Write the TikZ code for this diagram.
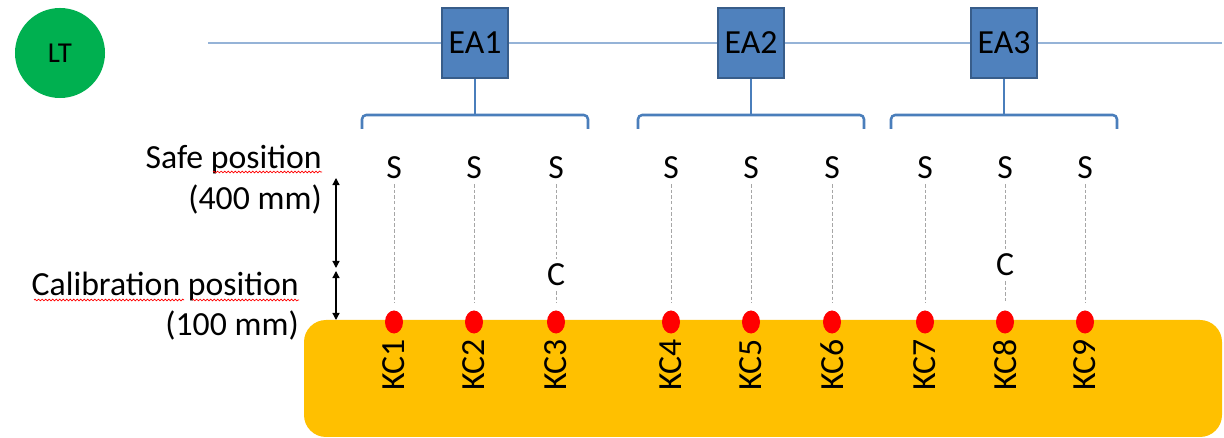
\documentclass[tikz,border=0pt]{standalone}
\usepackage{fontspec}
\setmainfont{Carlito}
\usetikzlibrary{arrows.meta,shapes.geometric,decorations.pathmorphing}

\definecolor{trackergreen}{HTML}{00B050}
\definecolor{eafill}{HTML}{4F81BD}
\definecolor{eaedge}{HTML}{385D8A}
\definecolor{busblue}{HTML}{95B3D7}
\definecolor{braceblue}{HTML}{4A7EBB}
\definecolor{partorange}{HTML}{FFC000}

\tikzset{
  eabox/.style={draw=eaedge,fill=eafill,line width=1.2pt,minimum width=1.65cm,minimum height=1.75cm,inner sep=0pt},
  brace/.style={draw=braceblue,line width=1.8pt,rounded corners=3pt},
  kcdot/.style={ellipse,fill=red,minimum width=0.45cm,minimum height=0.575cm,inner sep=0pt},
  guide/.style={gray!70,line width=0.6pt,dash pattern=on 2.5pt off 1.5pt,shorten >=0.18cm},
  dimarrow/.style={line width=0.9pt,{Triangle[width=5pt,length=5pt]}-{Triangle[width=5pt,length=5pt]}},
  spellmark/.style={red,line width=0.5pt,decorate,decoration={snake,amplitude=0.6pt,segment length=2.5pt}},
  lbl/.style={anchor=east,inner sep=0pt}
}

\begin{document}
\begin{tikzpicture}[x=0.025cm,y=-0.025cm,font=\fontsize{24}{28}\selectfont]
  \useasboundingbox (0,0) rectangle (1224,438);
  % the part, with the key characteristics on top
  \fill[partorange,rounded corners=0.55cm] (304,320) rectangle (1222,437);

  % laser tracker, bus and the three actuators
  \node[circle,fill=trackergreen,minimum size=2.25cm,inner sep=0pt,font=\fontsize{20.5}{24}\selectfont] (lt) at (60,53) {LT};
  \coordinate (busstart) at (208,43);
  \coordinate (busend) at (1222,43);
  \draw[busblue,line width=1.6pt] (busstart) -- (busend);
  \foreach \n/\x in {1/475,2/751,3/1004}{
    \node[eabox] (ea\n) at (\x,43) {EA\n};
    \draw[brace] (\x-113,129) -- (\x-113,115) -- (\x+113,115) -- (\x+113,129);
    \draw[brace] (ea\n.south) -- (\x,115);
  }

  % safe positions, KC points and labels
  \foreach \n/\x in {1/394,2/474,3/556,4/671,5/751,6/832,7/925,8/1005,9/1085}{
    \node (s\n) at (\x,168) {S};
    \node[kcdot] (k\n) at (\x,322) {};
    \node[rotate=90] (kc\n) at (\x,365) {KC\n};
  }
  \node (c3) at (556,275) {C};
  \node (c8) at (1005,265) {C};
  \foreach \n in {1,2,4,5,6,7,9}
    \draw[guide] (s\n) -- (k\n);
  \foreach \n in {3,8}
    \draw[guide] (s\n) -- (c\n) -- (k\n);

  % distances
  \coordinate (safe) at (336,178);
  \coordinate (cal) at (336,268);
  \coordinate (cal2) at (336,271);
  \coordinate (surf) at (336,320);
  \draw[dimarrow] (safe) -- (cal);
  \draw[dimarrow] (cal2) -- (surf);

  \node[lbl] (safelbl) at (322,160) {Safe position};
  \node[lbl] (safemm) at (322,200) {(400 mm)};
  \node[lbl] (callbl) at (299,287) {Calibration position};
  \node[lbl] (calmm) at (299,325) {(100 mm)};
  \draw[spellmark] (213,172) -- (322,172);
  \draw[spellmark] (34,300) -- (184,300);
  \draw[spellmark] (192,300) -- (299,300);
\end{tikzpicture}
\end{document}
